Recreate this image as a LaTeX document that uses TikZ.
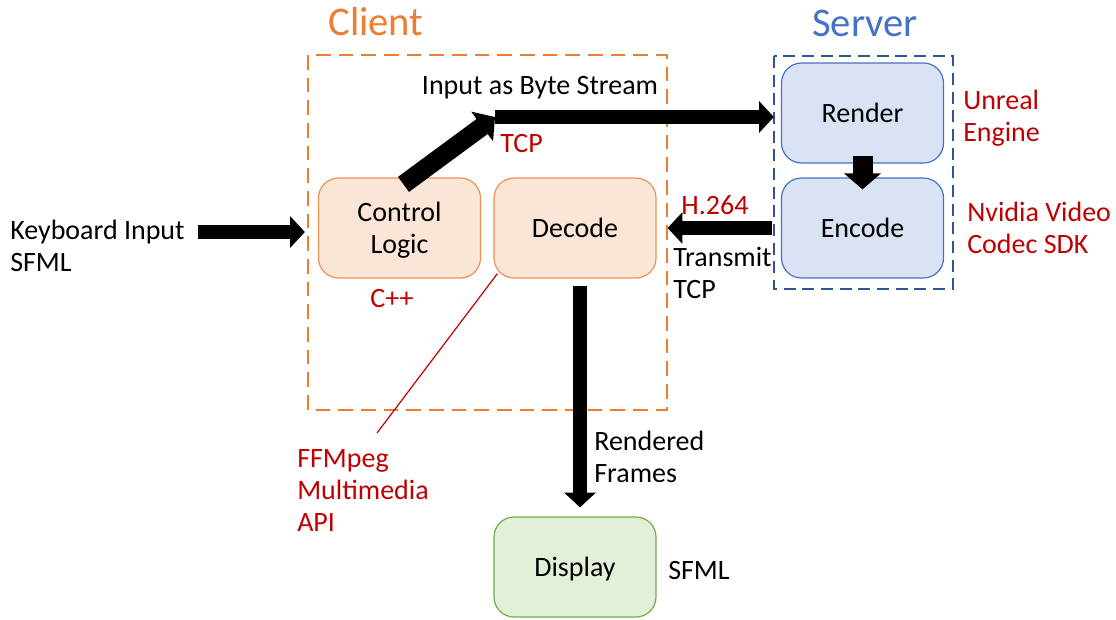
\documentclass[tikz,border=0pt]{standalone}
\usepackage{fontspec}
\setmainfont{Carlito}
\usetikzlibrary{arrows.meta,calc}
\definecolor{corange}{HTML}{ED7D31}
\definecolor{cblue}{HTML}{4472C4}
\definecolor{cdblue}{HTML}{2F5597}
\definecolor{cred}{HTML}{C00000}
\definecolor{ofill}{HTML}{FBE5D6}
\definecolor{bfill}{HTML}{DAE3F3}
\definecolor{gfill}{HTML}{E2F0D9}
\definecolor{gdraw}{HTML}{70AD47}
\tikzset{
  box/.style={rounded corners=15pt, minimum width=121.5pt, minimum height=75pt, line width=0.9pt, align=center, inner sep=0pt, text depth=0pt},
  obox/.style={box, draw=corange!85, fill=ofill},
  bbox/.style={box, draw=cblue, fill=bfill},
  gbox/.style={box, draw=gdraw, fill=gfill},
  lbl/.style={inner sep=0pt, align=left},
  rlbl/.style={lbl, text=cred},
  title/.style={inner sep=0pt, font=\fontsize{30.5}{34}\selectfont},
  bigarrow/.style={line width=10.5pt, -{Triangle[width=23pt, length=11pt]}},
  fatarrow/.style={line width=14pt, -{Triangle[width=27pt, length=12pt]}},
}
\begin{document}
\begin{tikzpicture}[x=0.75pt, y=-0.75pt, font=\fontsize{21}{24}\selectfont]
\useasboundingbox (0,0) rectangle (1116,619);
% group frames
\draw[corange, line width=1.9pt, dash pattern=on 11pt off 6pt] (308,55) rectangle (667,410);
\draw[cdblue, line width=1.6pt, dash pattern=on 9pt off 5pt] (774,56) rectangle (953,289);
\node[title, text=corange] (client) at (376,22) {Client};
\node[title, text=cblue] (server) at (865,23) {Server};
% boxes
\node[obox] (ctrl) at (399.5,228) {Control\\Logic};
\node[obox] (decode) at (575,228) {Decode};
\node[bbox] (render) at (862.5,113) {Render};
\node[bbox] (encode) at (862.5,228) {Encode};
\node[gbox] (display) at (575,567) {Display};
% labels
\node[lbl, anchor=west] (kb) at (10,246) {Keyboard Input\\SFML};
\node[lbl] (ibs) at (540,88) {Input as Byte Stream};
\node[rlbl, anchor=west] (tcp1) at (500,144) {TCP};
\node[rlbl] (cpp) at (392,299) {C++};
\node[rlbl] (h264) at (715,205) {H.264};
\node[lbl, anchor=west] (trans) at (673,273) {Transmit\\TCP};
\node[rlbl, anchor=west] (unreal) at (963,118) {Unreal\\Engine};
\node[rlbl, anchor=west] (nvidia) at (967,228) {Nvidia Video\\Codec SDK};
\node[lbl, anchor=west] (rframes) at (594,457) {Rendered\\Frames};
\node[rlbl, anchor=west] (ffm) at (297,491) {FFMpeg\\Multimedia\\API};
\node[lbl, anchor=west] (sfml2) at (668,570) {SFML};
% connectors
\coordinate (bs) at (495,117);
\coordinate (ffmtop) at (377,433);
\draw[bigarrow] ($(kb.east)+(13,-14)$) -- ($(ctrl.west)+(-13,4)$);
\draw[fatarrow] ($(ctrl.north)+(4,7)$) -- (bs);
\draw[bigarrow] (bs) -- ($(render.west |- bs)+(-7,0)$);
\draw[line width=15pt, -{Triangle[width=27pt, length=12pt]}] ($(render.south)+(0,-8)$) -- ($(encode.north)+(0,12)$);
\draw[bigarrow] ($(encode.west)+(-9,0)$) -- ($(decode.east)+(11,0)$);
\draw[bigarrow] ($(decode.south)+(5,7)$) -- ($(display.north)+(5,-9)$);
\draw[cred, line width=0.9pt] ($(decode.south west)+(4,-5)$) -- (ffmtop);
\end{tikzpicture}
\end{document}
